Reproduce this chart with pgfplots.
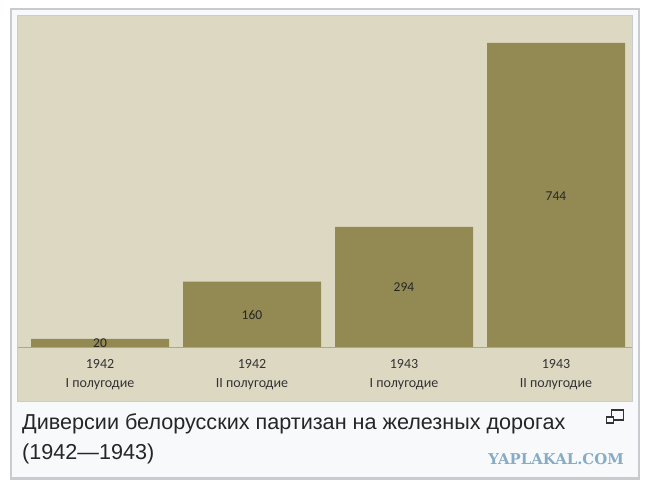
\documentclass[border=0pt]{standalone}
\usepackage{pgfplots}
\pgfplotsset{compat=1.18}
\usepackage{fontspec}
\setmainfont{Liberation Sans}
\newfontfamily\chartfont{Carlito}
\newfontfamily\wmfont{DejaVu Serif}
\definecolor{panel}{HTML}{DDD8C2}
\definecolor{barc}{HTML}{938953}
\definecolor{frame}{HTML}{C8CCD1}
\definecolor{thumb}{HTML}{F8F9FA}
\definecolor{wm}{HTML}{86ACC6}
\begin{document}
\begin{tikzpicture}[x=1pt,y=1pt]
\useasboundingbox (0,0) rectangle (650,488);
\fill[white] (0,0) rectangle (650,488);
\draw[frame,line width=2.5pt,fill=thumb] (11,9.5) rectangle (639,479);
\draw[frame,line width=1.5pt] (17.5,86.5) rectangle (632.5,472.5);
\begin{axis}[
  at={(18pt,87pt)}, anchor=south west,
  scale only axis, width=614pt, height=385pt,
  xmin=-0.5395, xmax=3.5, ymin=-132.2, ymax=810,
  axis background/.style={fill=panel},
  axis line style={draw=none},
  ybar, bar width=138pt,
  xtick={0,1,2,3},
  xticklabels={{1942\\I полугодие},{1942\\II полугодие},{1943\\I полугодие},{1943\\II полугодие}},
  xticklabel style={align=center, font=\chartfont\fontsize{14}{19}\selectfont, text=black!80, yshift=45pt},
  major tick length=0pt,
  ytick=\empty,
  extra y ticks={0}, extra y tick labels={},
  extra y tick style={grid=major, grid style={draw=black!35, line width=0.7pt}},
]
\addplot[fill=barc, draw=none, bar shift=0pt] coordinates {(0,20) (1,160) (2,294) (3,744)};
\node[font=\chartfont\fontsize{13.5}{15}\selectfont, text=black!85] at (axis cs:0,10) {20};
\node[font=\chartfont\fontsize{13.5}{15}\selectfont, text=black!85] at (axis cs:1,79) {160};
\node[font=\chartfont\fontsize{13.5}{15}\selectfont, text=black!85] at (axis cs:2,147) {294};
\node[font=\chartfont\fontsize{13.5}{15}\selectfont, text=black!85] at (axis cs:3,369) {744};
\end{axis}
\node[anchor=base west, inner sep=0pt, font=\fontsize{21.6}{24}\selectfont, text=black!85] at (22,59) {Диверсии белорусских партизан на железных дорогах};
\node[anchor=base west, inner sep=0pt, font=\fontsize{21.6}{24}\selectfont, text=black!85] at (22,29) {(1942—1943)};
\draw[black!80, line width=1.2pt] (611.5,78) rectangle (623.5,68);
\draw[black!80, line width=1.2pt, fill=thumb] (606.5,71) rectangle (613.5,65);
\node[anchor=base east, font=\wmfont\bfseries\fontsize{14.9}{16}\selectfont, text=wm, inner sep=0pt] at (624,24) {YAPLAKAL.COM};
\end{tikzpicture}
\end{document}
